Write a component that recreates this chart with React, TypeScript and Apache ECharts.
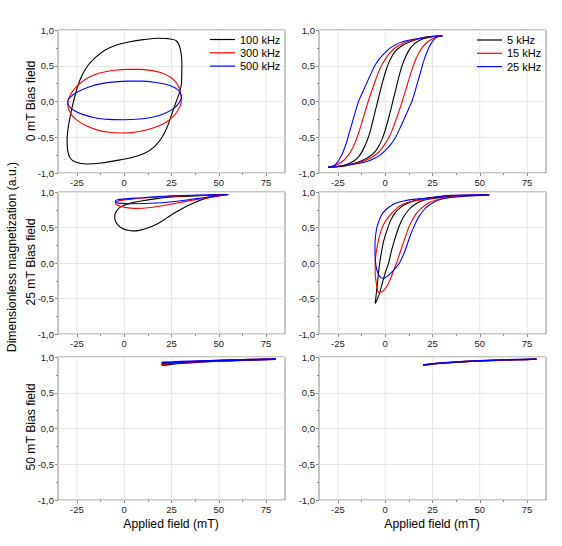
import React, { useEffect, useRef } from 'react';
import * as echarts from 'echarts';

// ---------- tick labels / categories ----------
const X_MIN = -35;
const X_MAX = 85;
const X_TICKS = [-25, 0, 25, 50, 75];
const X_MINOR_TICKS = [-12.5, 12.5, 37.5, 62.5];
const Y_MIN = -1;
const Y_MAX = 1;
const Y_STEP = 0.5;
const HF_NAMES = ['100 kHz', '300 kHz', '500 kHz'];
const LF_NAMES = ['5 kHz', '15 kHz', '25 kHz'];
const ROW_TITLES = ['0 mT Bias field', '25 mT Bias field', '50 mT Bias field'];
const Y_TITLE = 'Dimensionless magnetization (a.u.)';
const X_TITLE = 'Applied field (mT)';

// ---------- 0 mT bias, high frequency (closed loops) ----------
const LOOP_0MT_100KHZ = [
  [30.3, 0.25], [30.5, 0.53], [29.6, 0.74], [27.5, 0.85], [23, 0.88], [18, 0.885], [10, 0.865], [3, 0.835],
  [-4, 0.79], [-10, 0.72], [-15, 0.62], [-19, 0.51], [-22, 0.38], [-24.5, 0.22], [-26.8, 0.0], [-28.5, -0.2],
  [-29.8, -0.4], [-30.2, -0.55], [-29.9, -0.68], [-28.6, -0.79], [-25.5, -0.85], [-20, -0.875], [-12, -0.86],
  [-3, -0.82], [5, -0.775], [11, -0.72], [16, -0.63], [20, -0.5], [23, -0.34], [25.5, -0.15], [27.5, 0.0],
  [29.2, 0.12], [30.3, 0.25],
];
const LOOP_0MT_300KHZ = [
  [30.2, 0.05], [29.3, 0.17], [27.6, 0.26], [24.5, 0.34], [20, 0.4], [14, 0.435], [8, 0.45], [2, 0.45],
  [-4, 0.44], [-10, 0.415], [-16, 0.37], [-21, 0.3], [-25.5, 0.2], [-28.5, 0.09], [-29.8, -0.02], [-29.5, -0.1],
  [-28, -0.18], [-25, -0.26], [-20, -0.34], [-14, -0.4], [-8, -0.43], [-2, -0.44], [4, -0.435], [10, -0.41],
  [16, -0.365], [21.5, -0.3], [25.5, -0.22], [28.5, -0.12], [30, -0.03], [30.2, 0.05],
];
const LOOP_0MT_500KHZ = [
  [30.4, 0.06], [29.5, 0.13], [27, 0.19], [22, 0.24], [16, 0.27], [9, 0.285], [2, 0.285], [-5, 0.275],
  [-12, 0.25], [-19, 0.2], [-25, 0.13], [-28.5, 0.06], [-29.9, 0.0], [-29.3, -0.06], [-27, -0.12], [-22, -0.18],
  [-15, -0.23], [-8, -0.25], [0, -0.255], [8, -0.245], [15, -0.22], [21, -0.17], [26, -0.1], [29, -0.02],
  [30.4, 0.06],
];

// ---------- 0 mT bias, low frequency (descending / ascending branches) ----------
const DOWN_0MT_5KHZ = [
  [30.2, 0.92], [25, 0.912], [20, 0.895], [16, 0.865], [12.5, 0.83], [9.5, 0.79], [7, 0.745], [5, 0.69],
  [3.3, 0.62], [1.7, 0.53], [0.2, 0.42], [-1.2, 0.29], [-2.6, 0.15], [-4, 0.0], [-5.4, -0.15], [-6.8, -0.3],
  [-8.3, -0.45], [-9.9, -0.57], [-11.8, -0.68], [-14, -0.77], [-16.8, -0.835], [-20.5, -0.88], [-25, -0.905],
  [-30.2, -0.92],
];
const UP_0MT_5KHZ = [
  [-30.2, -0.92], [-25, -0.912], [-20, -0.895], [-16, -0.865], [-12.5, -0.83], [-9.5, -0.79], [-7, -0.745],
  [-5, -0.69], [-3.3, -0.62], [-1.7, -0.53], [-0.2, -0.42], [1.2, -0.29], [2.6, -0.15], [4, 0.0], [5.4, 0.15],
  [6.8, 0.3], [8.3, 0.45], [9.9, 0.57], [11.8, 0.68], [14, 0.77], [16.8, 0.835], [20.5, 0.88], [25, 0.905],
  [30.2, 0.92],
];
const DOWN_0MT_15KHZ = [
  [30.2, 0.92], [25, 0.91], [20, 0.89], [15.5, 0.865], [11.5, 0.835], [8, 0.795], [5, 0.745], [2.5, 0.68],
  [0.3, 0.6], [-1.8, 0.51], [-3.7, 0.4], [-5.5, 0.27], [-7.3, 0.135], [-9, 0.0], [-10.6, -0.14], [-12.2, -0.28],
  [-13.8, -0.42], [-15.5, -0.55], [-17.4, -0.66], [-19.5, -0.75], [-22, -0.825], [-24.8, -0.875],
  [-27.5, -0.905], [-30.2, -0.92],
];
const UP_0MT_15KHZ = [
  [-30.2, -0.92], [-25, -0.91], [-20, -0.89], [-15.5, -0.865], [-11.5, -0.835], [-8, -0.795], [-5, -0.745],
  [-2.5, -0.68], [-0.3, -0.6], [1.8, -0.51], [3.7, -0.4], [5.5, -0.27], [7.3, -0.135], [9, 0.0], [10.6, 0.14],
  [12.2, 0.28], [13.8, 0.42], [15.5, 0.55], [17.4, 0.66], [19.5, 0.75], [22, 0.825], [24.8, 0.875],
  [27.5, 0.905], [30.2, 0.92],
];
const DOWN_0MT_25KHZ = [
  [30.2, 0.92], [24, 0.905], [18, 0.88], [13, 0.86], [9.2, 0.835], [5.5, 0.795], [2.2, 0.74], [-0.6, 0.67],
  [-3.1, 0.595], [-5.5, 0.5], [-7.5, 0.39], [-9.4, 0.28], [-11.1, 0.18], [-12.7, 0.085], [-14.1, 0.0],
  [-15.3, -0.1], [-16.4, -0.2], [-17.7, -0.32], [-19, -0.44], [-20.3, -0.56], [-21.6, -0.66], [-23.2, -0.76],
  [-25, -0.84], [-27, -0.895], [-30.2, -0.92],
];
const UP_0MT_25KHZ = [
  [-30.2, -0.92], [-24, -0.905], [-18, -0.88], [-13, -0.86], [-9.2, -0.835], [-5.5, -0.795], [-2.2, -0.74],
  [0.6, -0.67], [3.1, -0.595], [5.5, -0.5], [7.5, -0.39], [9.4, -0.28], [11.1, -0.18], [12.7, -0.085],
  [14.1, 0.0], [15.3, 0.1], [16.4, 0.2], [17.7, 0.32], [19, 0.44], [20.3, 0.56], [21.6, 0.66], [23.2, 0.76],
  [25, 0.84], [27, 0.895], [30.2, 0.92],
];

// ---------- 25 mT bias, high frequency (tip to tip) ----------
const LOOP_25MT_100KHZ = [
  [55, 0.965], [45, 0.955], [35, 0.94], [25, 0.93], [18, 0.91], [9, 0.873], [3, 0.84], [0, 0.815],
  [-2.5, 0.78], [-4.3, 0.72], [-5, 0.66], [-4.8, 0.6], [-3.5, 0.54], [-1.2, 0.49], [2, 0.46], [4.5, 0.452],
  [8, 0.46], [12, 0.49], [17, 0.545], [22, 0.625], [27, 0.71], [33, 0.8], [38, 0.86], [43, 0.91],
  [49, 0.945], [55, 0.965],
];
const LOOP_25MT_300KHZ = [
  [55, 0.965], [45, 0.955], [35.5, 0.95], [25, 0.94], [18, 0.93], [10, 0.915], [3.8, 0.9], [-1, 0.885],
  [-3.5, 0.87], [-4.7, 0.845], [-4, 0.82], [-2, 0.8], [1, 0.78], [5.5, 0.77], [10, 0.772], [15, 0.785],
  [21, 0.81], [27, 0.84], [34, 0.875], [41, 0.905], [48, 0.935], [55, 0.965],
];
const LOOP_25MT_500KHZ = [
  [55, 0.965], [45, 0.96], [35, 0.955], [25, 0.945], [18, 0.935], [10, 0.92], [3.8, 0.91], [-1, 0.9],
  [-3.5, 0.89], [-4.8, 0.87], [-4, 0.85], [-1.5, 0.84], [3, 0.835], [10, 0.837], [17, 0.845], [24, 0.86],
  [31, 0.88], [39, 0.91], [47, 0.94], [55, 0.965],
];

// ---------- 25 mT bias, low frequency (tip to tip) ----------
const LOOP_25MT_5KHZ = [
  [55, 0.96], [45, 0.955], [35, 0.945], [25, 0.925], [20, 0.905], [15, 0.875], [11, 0.83], [8, 0.78],
  [5, 0.7], [2.7, 0.59], [0.8, 0.45], [-0.8, 0.31], [-2, 0.15], [-3, -0.02], [-3.8, -0.2], [-4.5, -0.38],
  [-5, -0.5], [-5.3, -0.57], [-4.5, -0.53], [-3.3, -0.45], [-1.7, -0.3], [0, -0.14], [1.8, 0.0], [3.3, 0.17],
  [5, 0.33], [7.1, 0.5], [9.5, 0.64], [12.4, 0.75], [16, 0.83], [20, 0.88], [25.6, 0.91], [33, 0.935],
  [43, 0.95], [55, 0.96],
];
const LOOP_25MT_15KHZ = [
  [55, 0.96], [45, 0.957], [35, 0.95], [28, 0.93], [23.8, 0.905], [17, 0.88], [11.5, 0.85], [7.5, 0.8],
  [4.5, 0.73], [1.5, 0.64], [-0.8, 0.545], [-2.6, 0.42], [-4, 0.265], [-4.9, 0.12], [-5.3, -0.02],
  [-5.3, -0.14], [-4.9, -0.25], [-4.3, -0.35], [-3.5, -0.414], [-2, -0.41], [-0.3, -0.37], [1.5, -0.3],
  [3, -0.21], [4.5, -0.1], [6, 0.0], [7.5, 0.12], [9, 0.24], [10.7, 0.37], [12.4, 0.5], [14.2, 0.6],
  [16.5, 0.7], [19.5, 0.78], [23, 0.85], [28, 0.895], [34, 0.925], [43, 0.945], [55, 0.96],
];
const LOOP_25MT_25KHZ = [
  [55, 0.96], [45, 0.958], [35, 0.953], [28, 0.935], [23.8, 0.915], [16, 0.9], [9.7, 0.874], [5.5, 0.84],
  [2.7, 0.8], [0.3, 0.75], [-1.7, 0.686], [-3.2, 0.6], [-4.4, 0.5], [-5.1, 0.38], [-5.4, 0.26], [-5.4, 0.14],
  [-5.2, 0.03], [-4.5, -0.09], [-3.4, -0.17], [-2.2, -0.21], [-1, -0.215], [0.3, -0.2], [1.8, -0.175],
  [3.5, -0.13], [5.5, -0.07], [7, -0.02], [8.5, 0.05], [10, 0.14], [11.5, 0.25], [13, 0.37], [14.5, 0.47],
  [16, 0.56], [18, 0.66], [20.5, 0.75], [23.5, 0.82], [27.5, 0.88], [33, 0.915], [42, 0.94], [55, 0.96],
];

// ---------- 50 mT bias, high frequency ----------
const LOOP_50MT_100KHZ = [
  [20, 0.885], [25, 0.9], [30, 0.912], [40, 0.93], [50, 0.943], [60, 0.953], [70, 0.962], [80, 0.97],
  [70, 0.966], [60, 0.959], [50, 0.95], [40, 0.94], [30, 0.925], [25, 0.915], [20, 0.9], [20, 0.885],
];
const LOOP_50MT_300KHZ = [
  [20, 0.905], [30, 0.925], [40, 0.938], [50, 0.948], [60, 0.957], [70, 0.965], [80, 0.973],
  [70, 0.962], [60, 0.954], [50, 0.945], [40, 0.934], [30, 0.92], [20, 0.9], [20, 0.905],
];
const LOOP_50MT_500KHZ = [
  [20, 0.925], [30, 0.935], [40, 0.944], [50, 0.952], [60, 0.959], [70, 0.965], [80, 0.97],
  [70, 0.962], [60, 0.955], [50, 0.947], [40, 0.938], [30, 0.927], [20, 0.912], [20, 0.925],
];

// ---------- 50 mT bias, low frequency ----------
const LOOP_50MT_5KHZ = [
  [20, 0.888], [25, 0.903], [30, 0.915], [40, 0.933], [50, 0.946], [60, 0.955], [70, 0.963], [80, 0.97],
  [70, 0.962], [60, 0.954], [50, 0.945], [40, 0.931], [30, 0.913], [25, 0.901], [20, 0.886],
];
const LOOP_50MT_15KHZ = [
  [20, 0.889], [25, 0.904], [30, 0.916], [40, 0.934], [50, 0.947], [60, 0.956], [70, 0.963], [80, 0.97],
  [70, 0.963], [60, 0.955], [50, 0.946], [40, 0.933], [30, 0.915], [25, 0.903], [20, 0.888],
];
const LOOP_50MT_25KHZ = [
  [20, 0.89], [25, 0.905], [30, 0.917], [40, 0.935], [50, 0.948], [60, 0.957], [70, 0.964], [80, 0.97],
  [70, 0.963], [60, 0.956], [50, 0.947], [40, 0.934], [30, 0.916], [25, 0.904], [20, 0.889],
];

// ---------- layout (positions and styles) ----------
const FONT = "'Liberation Sans', Arial, Helvetica, sans-serif";
const COLORS = ['#000000', '#ff0000', '#0000ff'];
const FRAME = '#8c8c8c';
const GRID_LINE = '#e6e6e6';
const TICK_FONT = 9.5;
const TITLE_FONT = 12.2;
const GRIDS = [
  { left: 58, top: 30, width: 227, height: 143 },
  { left: 319, top: 30, width: 227, height: 143 },
  { left: 58, top: 192, width: 227, height: 142 },
  { left: 319, top: 192, width: 227, height: 142 },
  { left: 58, top: 357, width: 227, height: 143 },
  { left: 319, top: 357, width: 227, height: 143 },
];
// each curve: list of polylines drawn in the same colour
const PANELS = [
  { curves: [[LOOP_0MT_100KHZ], [LOOP_0MT_300KHZ], [LOOP_0MT_500KHZ]], names: HF_NAMES, width: 1.1 },
  {
    curves: [[DOWN_0MT_5KHZ, UP_0MT_5KHZ], [DOWN_0MT_15KHZ, UP_0MT_15KHZ], [DOWN_0MT_25KHZ, UP_0MT_25KHZ]],
    names: LF_NAMES,
    width: 1.1,
  },
  { curves: [[LOOP_25MT_100KHZ], [LOOP_25MT_300KHZ], [LOOP_25MT_500KHZ]], names: HF_NAMES, width: 1.1 },
  { curves: [[LOOP_25MT_5KHZ], [LOOP_25MT_15KHZ], [LOOP_25MT_25KHZ]], names: LF_NAMES, width: 1.1 },
  { curves: [[LOOP_50MT_100KHZ], [LOOP_50MT_300KHZ], [LOOP_50MT_500KHZ]], names: HF_NAMES, width: 1.6 },
  { curves: [[LOOP_50MT_5KHZ], [LOOP_50MT_15KHZ], [LOOP_50MT_25KHZ]], names: LF_NAMES, width: 1.4 },
];

function buildOption(): any {
  const tickLine = { color: FRAME, width: 1 };
  const grid = GRIDS.map((g) => ({
    ...g,
    show: true,
    borderColor: FRAME,
    borderWidth: 1,
    backgroundColor: 'transparent',
    containLabel: false,
  }));
  const xAxis: any[] = [];
  GRIDS.forEach((_, i) => {
    xAxis.push({
      gridIndex: i,
      type: 'value',
      position: 'bottom',
      min: X_MIN,
      max: X_MAX,
      axisLine: { show: false, onZero: false },
      axisTick: { show: true, customValues: X_TICKS, length: 3, lineStyle: tickLine },
      axisLabel: {
        show: true,
        customValues: X_TICKS,
        fontSize: TICK_FONT,
        color: '#222',
        margin: 4,
        fontFamily: FONT,
      },
      splitLine: { show: false },
    });
    xAxis.push({
      gridIndex: i,
      type: 'value',
      position: 'bottom',
      min: X_MIN,
      max: X_MAX,
      axisLine: { show: false, onZero: false },
      axisTick: { show: true, customValues: X_MINOR_TICKS, length: 2, lineStyle: tickLine },
      axisLabel: { show: false },
      splitLine: { show: false },
    });
  });
  const yAxis = GRIDS.map((_, i) => ({
    gridIndex: i,
    type: 'value',
    position: 'left',
    min: Y_MIN,
    max: Y_MAX,
    interval: Y_STEP,
    axisLine: { show: false, onZero: false },
    axisTick: { show: true, length: 3, lineStyle: tickLine },
    minorTick: { show: true, splitNumber: 2, length: 2, lineStyle: tickLine },
    axisLabel: {
      fontSize: TICK_FONT,
      color: '#222',
      margin: 4,
      fontFamily: FONT,
      formatter: (v: number) => v.toFixed(1).replace('.', ','),
    },
    splitLine: { show: true, lineStyle: { color: GRID_LINE, width: 1 } },
  }));
  const series: any[] = [];
  PANELS.forEach((p, i) => {
    // vertical grid lines at the labelled x values, drawn through the axes
    X_TICKS.forEach((v) => {
      series.push({
        type: 'line',
        name: 'vgrid',
        xAxisIndex: 2 * i,
        yAxisIndex: i,
        data: [
          [v, Y_MIN],
          [v, Y_MAX],
        ],
        symbol: 'none',
        showSymbol: false,
        silent: true,
        z: 1,
        lineStyle: { color: GRID_LINE, width: 1 },
        emphasis: { disabled: true },
      });
    });
    p.curves.forEach((parts, k) => {
      parts.forEach((part) => {
        series.push({
          type: 'line',
          name: p.names[k],
          xAxisIndex: 2 * i,
          yAxisIndex: i,
          data: part,
          symbol: 'none',
          showSymbol: false,
          smooth: 0.3,
          clip: true,
          silent: true,
          z: 3,
          lineStyle: { color: COLORS[k], width: p.width },
          itemStyle: { color: COLORS[k] },
          emphasis: { disabled: true },
        });
      });
    });
  });
  const legendCommon = {
    orient: 'vertical',
    icon: 'rect',
    itemWidth: 25,
    itemHeight: 1.2,
    itemGap: 0.3,
    padding: 0,
    selectedMode: false,
    textStyle: { fontSize: 11, lineHeight: 13, color: '#000', fontFamily: FONT },
  };
  const legend = [
    { ...legendCommon, data: HF_NAMES, left: 210, top: 33 },
    { ...legendCommon, data: LF_NAMES, left: 477, top: 33.5 },
  ];
  const titleStyle = {
    fontSize: TITLE_FONT,
    fill: '#000',
    fontFamily: FONT,
    align: 'center',
    verticalAlign: 'middle',
  };
  const rowCenters = [101, 262, 427];
  const graphic: any[] = [
    ...ROW_TITLES.map((t, r) => ({
      type: 'text',
      x: 31,
      y: rowCenters[r],
      rotation: Math.PI / 2,
      style: { ...titleStyle, text: t },
    })),
    { type: 'text', x: 12, y: 257, rotation: Math.PI / 2, style: { ...titleStyle, text: Y_TITLE } },
    { type: 'text', x: 171, y: 524, style: { ...titleStyle, text: X_TITLE } },
    { type: 'text', x: 432, y: 524, style: { ...titleStyle, text: X_TITLE } },
  ];
  return {
    animation: false,
    backgroundColor: '#ffffff',
    textStyle: { fontFamily: FONT },
    grid,
    xAxis,
    yAxis,
    series,
    legend,
    graphic,
  };
}

export default function App() {
  const ref = useRef<HTMLDivElement>(null);
  useEffect(() => {
    if (!ref.current) return;
    const chart = echarts.init(ref.current, null, { renderer: 'svg' });
    chart.setOption(buildOption());
    return () => chart.dispose();
  }, []);
  return (
    <div
      ref={ref}
      style={{ position: 'absolute', left: 0, top: 0, width: 562, height: 546, background: '#fff' }}
    />
  );
}
